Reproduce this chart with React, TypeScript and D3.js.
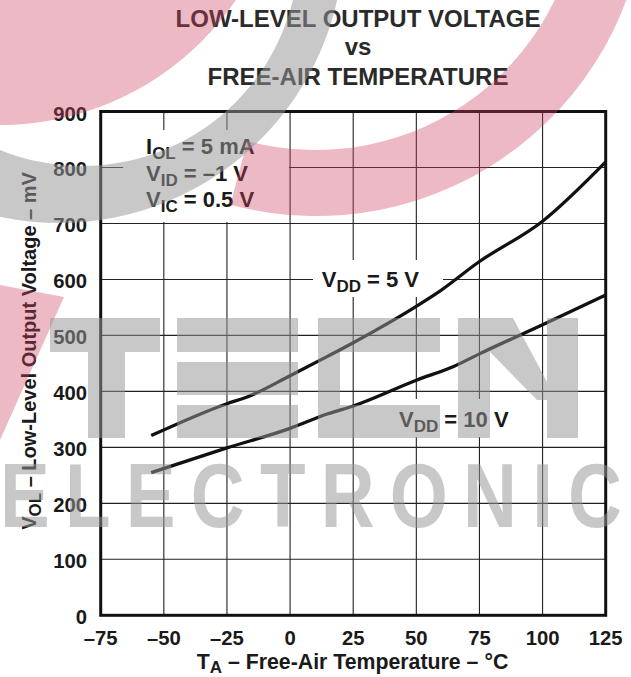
import React from "react";
import * as d3 from "d3";

// ---- data ----
const xTicks = [-75, -50, -25, 0, 25, 50, 75, 100, 125];
const yTicks = [0, 100, 200, 300, 400, 500, 600, 700, 800, 900];
const titleLines = ["LOW-LEVEL OUTPUT VOLTAGE", "vs", "FREE-AIR TEMPERATURE"];

const temps5V = [-55, -25, -17, 0, 15, 25, 50, 58, 75, 100, 125];
const vol5V = [321, 378, 390, 428, 463, 487, 552, 575, 632, 704, 810];

const temps10V = [-55, -25, 0, 15, 25, 50, 65, 75, 100, 125];
const vol10V = [255, 299, 334, 360, 374, 420, 445, 467, 519, 572];

const wmWord = "ELECTRONIC";

const FONT = "'Liberation Sans', Arial, Helvetica, sans-serif";

const x = d3.scaleLinear().domain([-75, 125]).range([100.7, 605.7]);
const y = d3.scaleLinear().domain([0, 900]).range([615.3, 111.5]);

const line = d3
  .line<[number, number]>()
  .x((d) => x(d[0]))
  .y((d) => y(d[1]))
  .curve(d3.curveMonotoneX);

const fmt = (t: number) => (t < 0 ? "\u2013" + Math.abs(t) : String(t));

const PINK = "rgb(203,67,95)";
const PINK_OP = 0.37;
const GRAY = "rgb(150,150,150)";
const GRAY_OP = 0.52;
const WM_SX = 0.82;

function circlePath(cx: number, cy: number, r: number, sweep: number) {
  return `M${cx + r},${cy}A${r},${r} 0 1 ${sweep} ${cx - r},${cy}A${r},${r} 0 1 ${sweep} ${cx + r},${cy}Z`;
}

export default function App() {
  const path5 = line(temps5V.map((t, i) => [t, vol5V[i]] as [number, number])) || "";
  const path10 = line(temps10V.map((t, i) => [t, vol10V[i]] as [number, number])) || "";

  const grayBand = circlePath(59, -62, 285, 1) + circlePath(82, -51, 217, 0);
  const pinkRing =
    d3.arc()({
      innerRadius: 265,
      outerRadius: 331,
      startAngle: Math.PI / 2,
      endAngle: (105 * Math.PI) / 180 + Math.PI / 2,
    } as any) || "";

  const x0 = x(-75), x1 = x(125), y0 = y(0), y1 = y(900);
  const sub = 17;

  return (
    <svg
      width={631}
      height={677}
      viewBox="0 0 631 677"
      style={{ position: "absolute", left: 0, top: 0, background: "#fff" }}
      fontFamily={FONT}
    >
      <rect x={0} y={0} width={631} height={677} fill="#fff" />

      {/* title */}
      {titleLines.map((t, i) => (
        <text
          key={t}
          x={358}
          y={[27.3, 55, 85][i]}
          textAnchor="middle"
          fontSize={24}
          fontWeight="bold"
          fill="#2a2a2a"
        >
          {t}
        </text>
      ))}

      {/* grid */}
      <g stroke="#222" strokeWidth={1.1}>
        {xTicks.slice(1, -1).map((t) => (
          <line key={"v" + t} x1={x(t)} x2={x(t)} y1={y1} y2={y0} />
        ))}
        {yTicks.slice(1, -1).map((v) => (
          <line key={"h" + v} x1={x0} x2={x1} y1={y(v)} y2={y(v)} />
        ))}
      </g>

      {/* label knockouts */}
      <rect x={123} y={130} width={166} height={92} fill="#fff" />
      <rect x={313} y={260} width={130} height={37} fill="#fff" />
      <rect x={392} y={399} width={123} height={38} fill="#fff" />

      {/* frame */}
      <rect x={x0} y={y1} width={x1 - x0} height={y0 - y1} fill="none" stroke="#111" strokeWidth={3} />

      {/* curves */}
      <path d={path5} fill="none" stroke="#111" strokeWidth={3.3} />
      <path d={path10} fill="none" stroke="#111" strokeWidth={3.3} />

      {/* tick labels */}
      <g fontSize={20.3} fontWeight="bold" fill="#1a1a1a">
        {yTicks.map((v) => (
          <text key={"yl" + v} x={87} y={y(v) + 9} textAnchor="end">
            {v}
          </text>
        ))}
        {xTicks.map((t) => (
          <text key={"xl" + t} x={x(t)} y={645} textAnchor="middle">
            {fmt(t)}
          </text>
        ))}
      </g>

      {/* axis titles */}
      <text x={352.5} y={668.5} textAnchor="middle" fontSize={21.3} fontWeight="bold" fill="#1a1a1a">
        T<tspan dy={4.5} fontSize={sub}>A</tspan>
        <tspan dy={-4.5}> – Free-Air Temperature – °C</tspan>
      </text>
      <text
        transform="translate(36,351) rotate(-90)"
        textAnchor="middle"
        fontSize={20}
        fontWeight="bold"
        fill="#1a1a1a"
      >
        V<tspan dy={5} fontSize={sub}>OL</tspan>
        <tspan dy={-5}> – Low-Level Output Voltage – mV</tspan>
      </text>

      {/* annotations */}
      <g fontSize={22} fontWeight="bold" fill="#1a1a1a">
        <text x={146} y={154}>
          I<tspan dy={5} fontSize={sub}>OL</tspan>
          <tspan dy={-5}> = 5 mA</tspan>
        </text>
        <text x={146} y={181}>
          V<tspan dy={5} fontSize={sub}>ID</tspan>
          <tspan dy={-5}> = –1 V</tspan>
        </text>
        <text x={146} y={207}>
          V<tspan dy={5} fontSize={sub}>IC</tspan>
          <tspan dy={-5}> = 0.5 V</tspan>
        </text>
        <text x={321.7} y={286.7}>
          V<tspan dy={5} fontSize={sub}>DD</tspan>
          <tspan dy={-5}> = 5 V</tspan>
        </text>
        <text x={399} y={426.7}>
          V<tspan dy={5} fontSize={sub}>DD</tspan>
          <tspan dy={-5}> = 10 V</tspan>
        </text>
      </g>

      {/* watermark overlay */}
      <g pointerEvents="none">
        <g fill={PINK} opacity={PINK_OP}>
          <circle cx={0} cy={-160} r={285} />
          <path d={pinkRing} transform="translate(316,-115)" />
          <polygon points="0,285 64,297 0,440" />
        </g>
        <g fill={GRAY} opacity={GRAY_OP}>
          <path d={grayBand} fillRule="evenodd" />
        </g>
        <g fill={GRAY} opacity={GRAY_OP}>
          <path
            d={[
              "M50,318H160V352H125V438H88V352H50Z",
              "M177,318H298V352H177Z",
              "M177,362H298V395H177Z",
              "M177,405H298V438H177Z",
              "M318,318H440V352H340V405H440V438H318Z",
              "M458,318H513L547,382V318H578V438H547V400H537L490,352V438H458Z",
            ].join("")}
          />
          <text
            transform={`scale(${WM_SX},1)`}
            x={0}
            y={527}
            fontSize={91}
            fontWeight="bold"
            textLength={622 / WM_SX}
            lengthAdjust="spacing"
          >
            {wmWord}
          </text>
        </g>
      </g>
    </svg>
  );
}
